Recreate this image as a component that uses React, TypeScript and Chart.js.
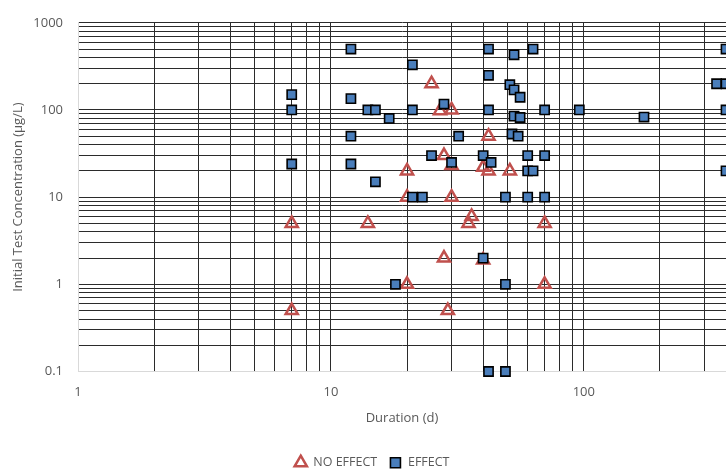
import React, { useEffect, useRef } from 'react';
import { Chart, registerables } from 'chart.js';

Chart.register(...registerables);

// NO EFFECT series (duration in days, concentration in µg/L)
const noEffectX = [25, 27, 30, 28, 30, 20, 20, 30, 7, 14, 36, 35, 28, 20, 7, 29, 42, 42, 40, 51, 70, 40, 70];
const noEffectY = [200, 98, 100, 30, 23, 20, 10, 10, 5, 5, 6, 5, 2, 1, 0.5, 0.5, 50, 20, 22, 20, 5, 1.9, 1];

// EFFECT series
const effectX = [12, 21, 7, 7, 12, 14, 15, 17, 21, 28, 12, 32, 7, 12, 25, 30, 15, 21, 23, 18,
  42, 53, 63, 42, 51, 53, 56, 42, 53, 56, 70, 96, 173, 365, 335, 365, 365, 365,
  52, 55, 40, 43, 60, 70, 60, 63, 49, 60, 70, 40, 49, 42, 49];
const effectY = [500, 330, 150, 100, 135, 100, 100, 80, 100, 117, 50, 50, 24, 24, 30, 25, 15, 10, 10, 1,
  500, 430, 500, 250, 195, 170, 140, 100, 85, 82, 100, 100, 83, 500, 200, 200, 100, 20,
  53, 50, 30, 25, 30, 30, 20, 20, 10, 10, 10, 2, 1, 0.1, 0.1];

const xTickValues = [1, 2, 3, 4, 5, 6, 7, 8, 9, 10, 20, 30, 40, 50, 60, 70, 80, 90, 100, 200, 300];
const yTickValues = [0.1, 0.2, 0.3, 0.4, 0.5, 0.6, 0.7, 0.8, 0.9, 1, 2, 3, 4, 5, 6, 7, 8, 9,
  10, 20, 30, 40, 50, 60, 70, 80, 90, 100, 200, 300, 400, 500, 600, 700, 800, 900, 1000];
const xLabeled = [1, 10, 100];
const yLabeled = [0.1, 1, 10, 100, 1000];

const xMin = 1;
const xMax = 365;
const yMin = 0.1;
const yMax = 1000;

const FONT = '"Open Sans", "Liberation Sans", sans-serif';
const TEXT = '#595959';
const GRID = '#2b2b2b';
const AXIS = '#d9d9d9';

const near = (a: number, b: number) => Math.abs(a - b) < 1e-9 * Math.max(1, Math.abs(b));

const legendShift = {
  id: 'legendShift',
  afterLayout(chart: any) {
    const l = chart.legend;
    if (l) {
      l.left += 9;
      l.right += 9;
    }
  },
};

export default function App() {
  const ref = useRef<HTMLCanvasElement | null>(null);

  useEffect(() => {
    if (!ref.current) return;
    const chart = new Chart(ref.current, {
      type: 'scatter',
      data: {
        datasets: [
          {
            label: 'NO EFFECT',
            data: noEffectX.map((x, i) => ({ x, y: noEffectY[i] })),
            pointStyle: 'triangle',
            pointRadius: 7,
            pointBorderWidth: 2.5,
            borderColor: '#c0504d',
            backgroundColor: 'rgba(255,255,255,0)',
            order: 1,
            clip: false as any,
          },
          {
            label: 'EFFECT',
            data: effectX.map((x, i) => ({ x, y: effectY[i] })),
            pointStyle: 'rect',
            pointRadius: 6.5,
            pointBorderWidth: 1.6,
            borderColor: '#000000',
            backgroundColor: '#4a7ebb',
            order: 0,
            clip: false as any,
          },
        ],
      },
      plugins: [legendShift],
      options: {
        animation: false,
        responsive: false,
        layout: { autoPadding: false, padding: { top: 10, right: 0, bottom: -10, left: 0 } },
        plugins: {
          legend: {
            position: 'bottom',
            labels: {
              usePointStyle: true,
              color: TEXT,
              font: { family: FONT, size: 12.5 },
              boxHeight: 10,
              padding: 12,
              sort: (a: any, b: any) => a.datasetIndex - b.datasetIndex,
            },
          },
          tooltip: { enabled: false },
        },
        scales: {
          x: {
            type: 'logarithmic',
            min: xMin,
            max: xMax,
            afterBuildTicks: (scale: any) => {
              scale.ticks = xTickValues.map((v) => ({ value: v, major: false }));
            },
            afterFit: (scale: any) => {
              scale.height = 73;
            },
            ticks: {
              autoSkip: false,
              maxRotation: 0,
              padding: 13,
              color: TEXT,
              font: { family: FONT, size: 13 },
              callback: (v: any) => (xLabeled.some((l) => near(Number(v), l)) ? String(v) : ''),
            },
            grid: {
              drawTicks: false,
              color: (ctx: any) => (ctx.tick && near(ctx.tick.value, xMin) ? 'rgba(0,0,0,0)' : GRID),
              lineWidth: 1,
            },
            border: { color: AXIS, width: 1 },
            title: {
              display: true,
              text: 'Duration (d)',
              color: TEXT,
              font: { family: FONT, size: 13 },
              padding: { top: 4, bottom: 18 },
            },
          },
          y: {
            type: 'logarithmic',
            min: yMin,
            max: yMax,
            afterBuildTicks: (scale: any) => {
              scale.ticks = yTickValues.map((v) => ({ value: v, major: false }));
            },
            afterFit: (scale: any) => {
              scale.width = 78;
            },
            ticks: {
              autoSkip: false,
              padding: 15,
              color: TEXT,
              font: { family: FONT, size: 13 },
              callback: (v: any) => {
                const n = Number(v);
                const hit = yLabeled.find((l) => near(n, l));
                return hit !== undefined ? String(hit) : '';
              },
            },
            grid: {
              drawTicks: false,
              color: (ctx: any) => (ctx.tick && near(ctx.tick.value, yMin) ? 'rgba(0,0,0,0)' : GRID),
              lineWidth: 1,
            },
            border: { color: AXIS, width: 1 },
            title: {
              display: true,
              text: 'Initial Test Concentration (µg/L)',
              color: TEXT,
              font: { family: FONT, size: 13 },
              padding: { top: 10, bottom: 0 },
            },
          },
        },
      },
    });
    return () => chart.destroy();
  }, []);

  return (
    <div style={{ position: 'fixed', left: 0, top: 0, width: 726, height: 469, background: '#fff' }}>
      <canvas ref={ref} width={726} height={469} style={{ display: 'block' }} />
    </div>
  );
}
